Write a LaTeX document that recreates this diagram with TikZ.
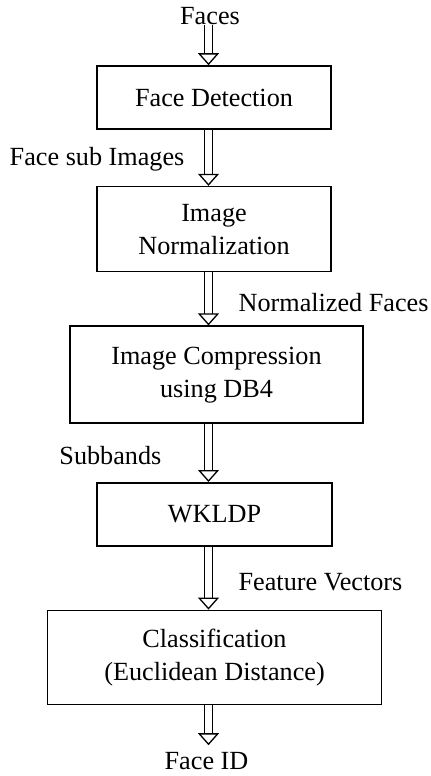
\documentclass[tikz,border=0pt]{standalone}
\usepackage{fontspec}
\setmainfont{Liberation Serif}
\usetikzlibrary{positioning,arrows.meta}

\begin{document}
\begin{tikzpicture}[%
  font=\fontsize{13.1}{16.5}\selectfont,%
  blk/.style={draw,line width=0.8pt,align=center,minimum width=117pt,minimum height=31.5pt,inner sep=0pt},%
  lbl/.style={inner sep=0pt},%
  flow/.style={double,double distance=3.5pt,line width=0.65pt,-{Triangle[open,length=6pt,width=10.5pt]}}%
  ]
  \useasboundingbox (0,0) rectangle (215.5pt,-388pt);
  \coordinate (ax) at (104.25pt,0);
%
  \node (det)  [blk] at (107pt,-48.75pt) {Face Detection};
  \node (norm) [blk,minimum height=42.5pt,below=28pt of det] {Image\\Normalization};
  \node (comp) [blk,minimum width=146.5pt,minimum height=48.5pt,below=26.5pt of norm,xshift=1.25pt] {Image Compression\\using DB4};
  \node (wk)   [blk,minimum width=117.5pt,below=29pt of comp,xshift=-1pt] {WKLDP};
  \node (cls)  [blk,minimum width=167pt,minimum height=47pt,below=31.5pt of wk] {Classification\\(Euclidean Distance)};
%
  \node (in)  [lbl,above=20pt of det,xshift=-2pt] {Faces};
  \node (out) [lbl,below=23.5pt of cls,xshift=-4pt] {Face ID};
%
  \draw[flow] (in.south -| ax) -- (det.north -| ax);
  \draw[flow] (det.south -| ax) -- (norm.north -| ax)
    node[lbl,pos=0.52,left=11.75pt] (l1) {Face sub Images};
  \draw[flow] (norm.south -| ax) -- (comp.north -| ax)
    node[lbl,pos=0.57,right=14.75pt] (l2) {Normalized Faces};
  \draw[flow] (comp.south -| ax) -- (wk.north -| ax)
    node[lbl,pos=0.55,left=23.25pt] (l3) {Subbands};
  \draw[flow] (wk.south -| ax) -- (cls.north -| ax)
    node[lbl,pos=0.57,right=14.75pt] (l4) {Feature Vectors};
  \draw[flow,shorten >=3.5pt] (cls.south -| ax) -- (out.north -| ax);
%
\end{tikzpicture}
\end{document}
